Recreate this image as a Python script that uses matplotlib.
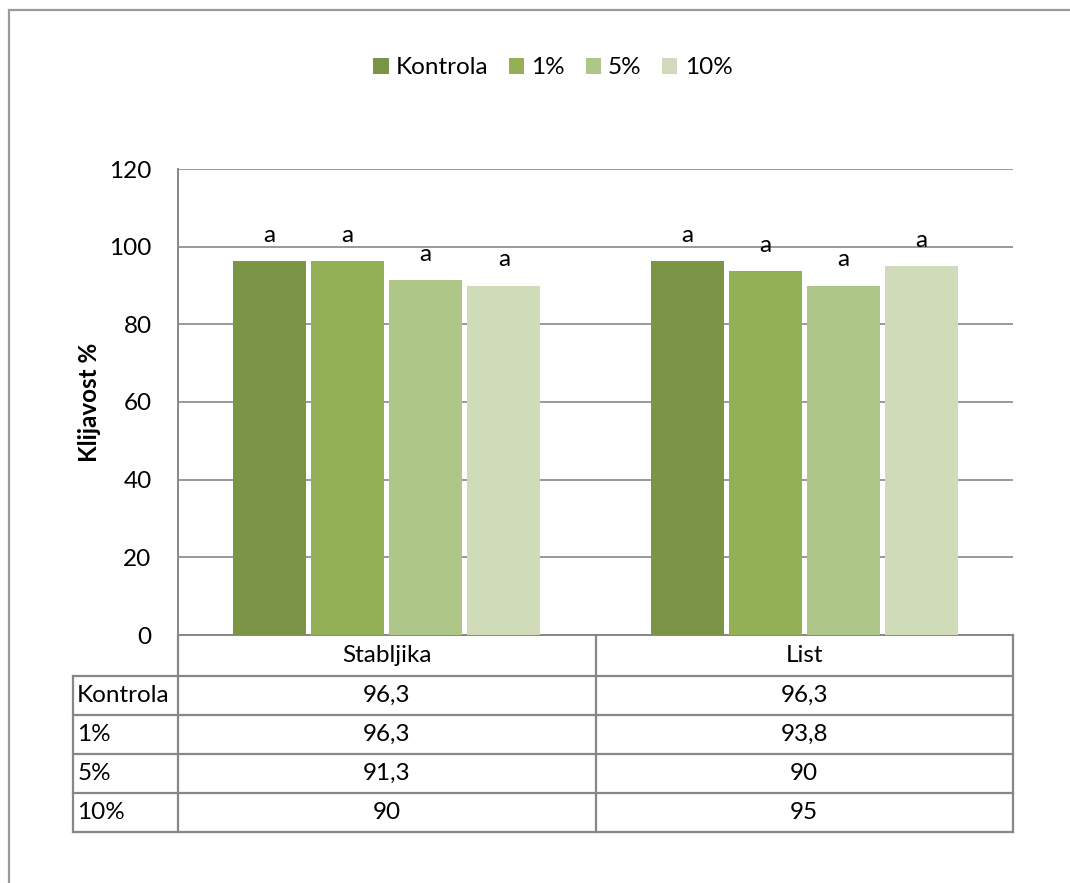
import numpy as np
import matplotlib.pyplot as plt
import matplotlib.transforms as mtransforms
from matplotlib.patches import Rectangle

plt.rcParams['font.family'] = ['Lato', 'DejaVu Sans']

categories = ['Stabljika', 'List']
series = ['Kontrola', '1%', '5%', '10%']
values = [
    [96.3, 96.3],   # Kontrola
    [96.3, 93.8],   # 1%
    [91.3, 90.0],   # 5%
    [90.0, 95.0],   # 10%
]
table_text = [
    ['96,3', '96,3'],
    ['96,3', '93,8'],
    ['91,3', '90'],
    ['90', '95'],
]
letters = [['a', 'a'], ['a', 'a'], ['a', 'a'], ['a', 'a']]
colors = ['#7B9446', '#93B057', '#AFC689', '#D0DCB9']
grid_col = '#878787'
fs = 17.5

W, H = 1070, 883
fig = plt.figure(figsize=(W / 100, H / 100), dpi=100)
ax = fig.add_axes([178 / W, 1 - 635 / H, (1013 - 178) / W, (635 - 169) / H])

# outer chart border
fig.patches.append(Rectangle((9 / W, -0.2), 1.5, 1 - 10 / H + 0.2, transform=fig.transFigure,
                             fill=False, edgecolor='#9a9a9a', lw=1.6, zorder=0))

x = np.arange(len(categories))
bw = 0.175
step = 0.187
for i, name in enumerate(series):
    xs = x + (i - 1.5) * step
    ax.bar(xs, values[i], width=bw, color=colors[i], label=name, zorder=3)
    for xi, v, t in zip(xs, values[i], letters[i]):
        ax.annotate(t, (xi, v), xytext=(0, 18.5), textcoords='offset points',
                    ha='center', va='center', fontsize=fs)

ax.set_xlim(-0.5, 1.5)
ax.set_ylim(0, 120)
ax.set_yticks(np.arange(0, 121, 20))
ax.yaxis.grid(True, color=grid_col, lw=1.2)
ax.set_axisbelow(True)
ax.tick_params(axis='y', length=0, pad=19, labelsize=fs)
ax.set_xticks([])
for s in ['top', 'right']:
    ax.spines[s].set_visible(False)
for s in ['left', 'bottom']:
    ax.spines[s].set_color(grid_col)
    ax.spines[s].set_linewidth(1.4)
ax.set_ylabel('Klijavost %', fontsize=fs, fontweight='bold', labelpad=6)

# data table below the axes
tr = mtransforms.blended_transform_factory(ax.transData, ax.transAxes)
axh = 635 - 169
hdr = 41 / axh
rowh = 39 / axh
lab_left = -0.5 - 105 / ((1013 - 178) / 2)
tl = dict(color=grid_col, lw=1.6, transform=tr, clip_on=False)

bottom = -hdr - rowh * len(series)
# vertical lines
for xv in [0.5, 1.5]:
    ax.plot([xv, xv], [0, bottom], **tl)
ax.plot([-0.5, -0.5], [0, bottom], **tl)
ax.plot([lab_left, lab_left], [-hdr, bottom], **tl)
# horizontal lines
ax.plot([-0.5, 1.5], [-hdr, -hdr], **tl)
ax.plot([lab_left, -0.5], [-hdr, -hdr], **tl)
for r in range(len(series)):
    yb = -hdr - rowh * (r + 1)
    ax.plot([lab_left, 1.5], [yb, yb], **tl)

for j, c in enumerate(categories):
    ax.text(j, -hdr / 2, c, transform=tr, ha='center', va='center', fontsize=fs)
for r, name in enumerate(series):
    yc = -hdr - rowh * (r + 0.5)
    ax.text(lab_left + 0.01, yc, name, transform=tr, ha='left', va='center', fontsize=fs)
    for j in range(len(categories)):
        ax.text(j, yc, table_text[r][j], transform=tr, ha='center', va='center', fontsize=fs)

fig.legend(loc='center', bbox_to_anchor=(553 / W, 1 - 68 / H), ncol=4, frameon=False,
           fontsize=fs, handlelength=0.62, handleheight=0.62, handletextpad=0.3,
           columnspacing=0.85)

fig.savefig('out.png', dpi=100)
